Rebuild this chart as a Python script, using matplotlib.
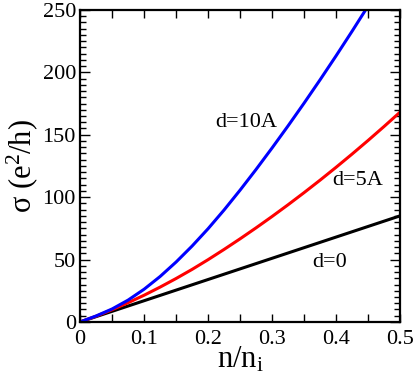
#!/usr/bin/env python3
import matplotlib
matplotlib.use("Agg")
import matplotlib.pyplot as plt
from matplotlib.ticker import MultipleLocator

# values
n_black = [0.0, 0.1, 0.2, 0.3, 0.4, 0.5]
sigma_black = [0.0, 17.0, 34.0, 51.0, 68.0, 85.0]

n_red = [0.0, 0.025, 0.05, 0.075, 0.1, 0.125, 0.15, 0.175, 0.2, 0.225, 0.25,
         0.275, 0.3, 0.325, 0.35, 0.375, 0.4, 0.425, 0.45, 0.475, 0.5]
sigma_red = [0.0, 4.6, 9.8, 15.4, 21.4, 27.9, 34.8, 42.1, 49.9, 58.1, 66.6,
             75.4, 84.5, 93.9, 103.6, 113.6, 123.9, 134.5, 145.4, 156.6, 168.1]

n_blue = [0.0, 0.025, 0.05, 0.075, 0.1, 0.125, 0.15, 0.175, 0.2, 0.225, 0.25,
          0.275, 0.3, 0.325, 0.35, 0.375, 0.4, 0.425, 0.45]
sigma_blue = [0.0, 4.8, 10.4, 17.5, 26.2, 36.4, 48.0, 60.8, 74.7, 89.7, 105.6,
              122.2, 139.4, 157.1, 175.3, 194.0, 213.2, 232.9, 253.1]

labels = ["d=10A", "d=5A", "d=0"]
label_pos = [(0.259, 160), (0.434, 113), (0.39, 48)]


def main():
    plt.rcParams['font.family'] = ['Liberation Serif', 'DejaVu Serif']
    plt.rcParams['mathtext.fontset'] = 'custom'
    plt.rcParams['mathtext.rm'] = 'Liberation Serif'
    plt.rcParams['mathtext.it'] = 'Liberation Serif:italic'

    fig = plt.figure(figsize=(4.15, 3.81), dpi=100)
    ax = fig.add_axes([0.193, 0.155, 0.771, 0.819])

    ax.plot(n_black, sigma_black, color='black', lw=2.2)
    ax.plot(n_red, sigma_red, color='red', lw=2.2)
    ax.plot(n_blue, sigma_blue, color='blue', lw=2.2)

    for text, (x, y) in zip(labels, label_pos):
        ax.text(x, y, text, fontsize=16, ha='center', va='center')

    ax.set_xlim(0, 0.5)
    ax.set_ylim(0, 250)
    ax.xaxis.set_minor_locator(MultipleLocator(0.05))
    ax.yaxis.set_major_locator(MultipleLocator(50))
    ax.yaxis.set_minor_locator(MultipleLocator(5))
    ax.set_xticks([0, 0.1, 0.2, 0.3, 0.4, 0.5],
                  ['0', '0.1', '0.2', '0.3', '0.4', '0.5'])

    ax.tick_params(which='both', direction='in', top=True, right=True,
                   width=1.0, labelsize=16)
    ax.tick_params(axis='x', which='both', length=6, pad=6)
    ax.tick_params(axis='y', which='major', length=7, pad=3)
    ax.tick_params(axis='y', which='minor', length=4)
    for spine in ax.spines.values():
        spine.set_linewidth(1.6)

    ax.set_xlabel(r'n/n$_\mathrm{i}$', fontsize=22, labelpad=-3)
    ax.set_ylabel(r'σ (e$^2$/h)', fontsize=22, labelpad=2)

    fig.savefig('out.png', dpi=100)


if __name__ == "__main__":
    main()
